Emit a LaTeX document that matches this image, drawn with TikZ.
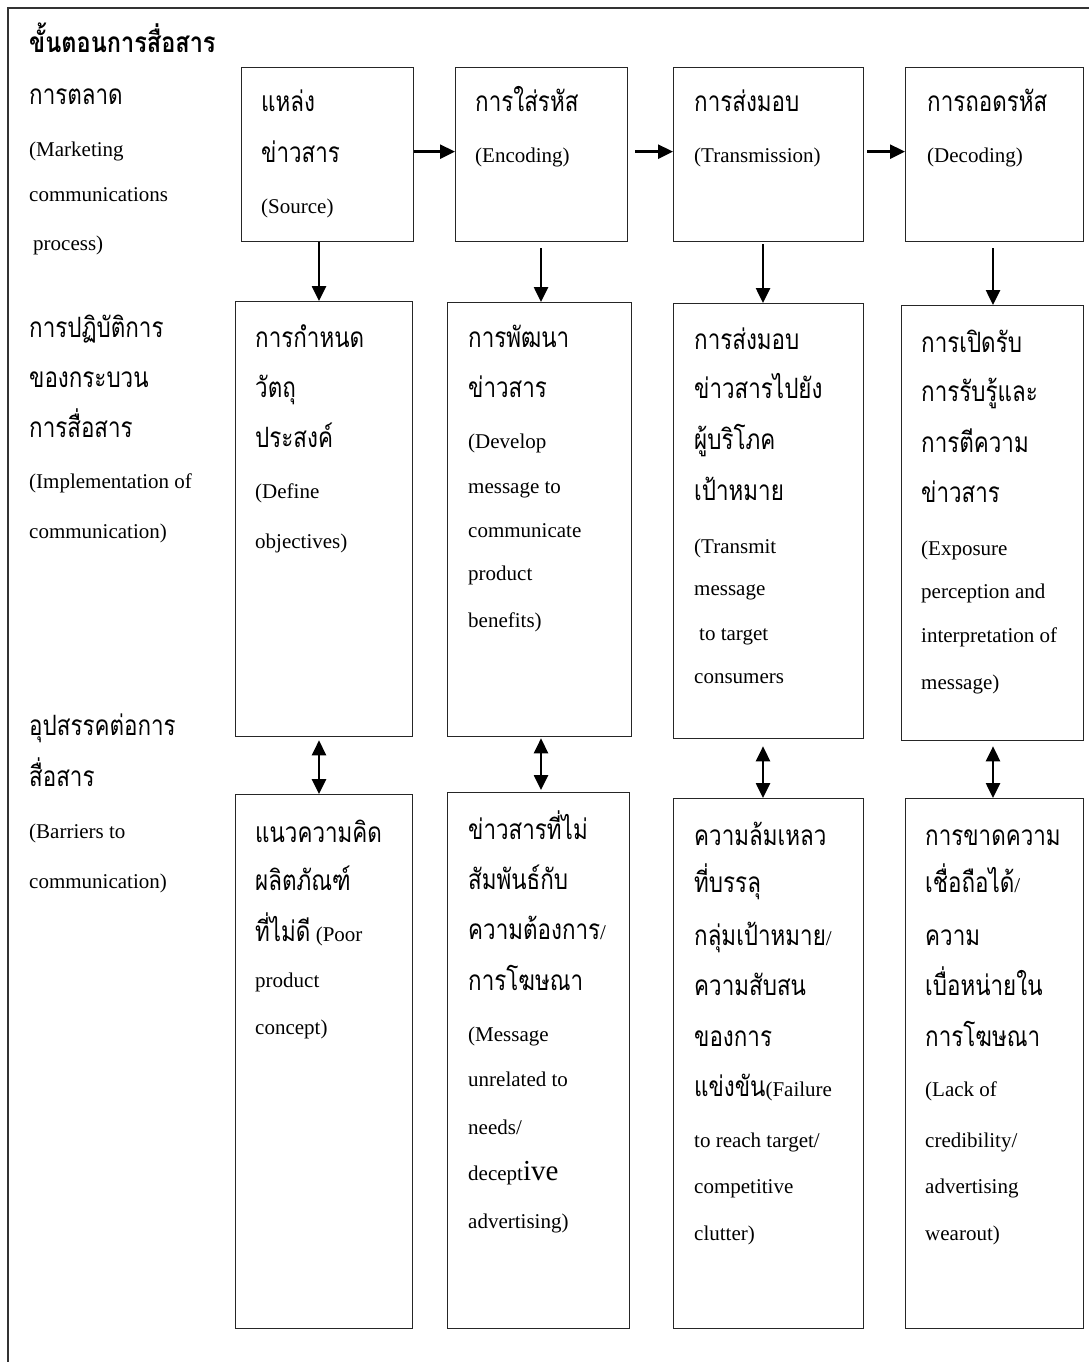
\documentclass[tikz,border=0pt]{standalone}
\usepackage{fontspec}
\usetikzlibrary{arrows.meta}
\setmainfont{Liberation Serif}
\newfontfamily\thaifont[Script=Thai,FakeStretch=0.8]{Loma}
\newfontfamily\thaititle[Script=Thai,FakeStretch=0.84]{Loma}
% Thai run in the Thai face
\newcommand\thaitxt[1]{{\thaifont\fontsize{28}{28}\selectfont #1}}
% a stack of lines whose baselines are set by explicit gaps
\newcommand\tstack[1]{\vtop{\baselineskip=0pt\lineskip=0pt\lineskiplimit=-1000pt\relax#1}}
\newcommand\tline[1]{\hbox{#1}}
\newcommand\lgap[1]{\vskip#1pt}
\tikzset{
  box/.style={draw=black!85,line width=1.3pt,inner sep=0pt,anchor=north west},
  txt/.style={anchor=base west,inner sep=0pt,font=\fontsize{21}{21}\selectfont},
  arr/.style={line width=2.6pt,-{Triangle[length=15pt,width=14pt]}},
  darr/.style={line width=2.6pt,{Triangle[length=15pt,width=14pt]}-{Triangle[length=15pt,width=14pt]}},
  frame/.style={draw=black!80,line width=1.3pt}
}
\begin{document}
\begin{tikzpicture}[x=1pt,y=-1pt]
\useasboundingbox (0,0) rectangle (1089,1362);
\fill[white] (0,0) rectangle (1089,1362);
\draw[frame] (8,1362) -- (8,8) -- (1089,8);

% stage boxes
\node[box,minimum width=172pt,minimum height=174pt] (s1) at (241,67) {};
\node[box,minimum width=172pt,minimum height=174pt] (s2) at (455,67) {};
\node[box,minimum width=190pt,minimum height=174pt] (s3) at (673,67) {};
\node[box,minimum width=178pt,minimum height=174pt] (s4) at (905,67) {};
% implementation boxes
\node[box,minimum width=177pt,minimum height=435pt] (m1) at (235,301) {};
\node[box,minimum width=184pt,minimum height=434pt] (m2) at (447,302) {};
\node[box,minimum width=190pt,minimum height=435pt] (m3) at (673,303) {};
\node[box,minimum width=182pt,minimum height=435pt] (m4) at (901,305) {};
% barrier boxes
\node[box,minimum width=177pt,minimum height=534pt] (b1) at (235,794) {};
\node[box,minimum width=182pt,minimum height=536pt] (b2) at (447,792) {};
\node[box,minimum width=190pt,minimum height=530pt] (b3) at (673,798) {};
\node[box,minimum width=178pt,minimum height=530pt] (b4) at (905,798) {};

% column guides for the vertical connectors
\coordinate (c1) at (319,0);
\coordinate (c2) at (541,0);
\coordinate (c3) at (763,0);
\coordinate (c4) at (993,0);

% flow along the top row
\draw[arr] ([yshift=3pt]s1.east) -- ([yshift=3pt]s2.west);
\draw[arr,shorten <=7pt] ([yshift=3pt]s2.east) -- ([yshift=3pt]s3.west);
\draw[arr,shorten <=3pt] ([yshift=3pt]s3.east) -- ([yshift=3pt]s4.west);
% top row to implementation row
\draw[arr] (c1 |- s1.south) -- (c1 |- m1.north);
\draw[arr,shorten <=6pt] (c2 |- s2.south) -- (c2 |- m2.north);
\draw[arr,shorten <=2pt] (c3 |- s3.south) -- (c3 |- m3.north);
\draw[arr,shorten <=6pt] (c4 |- s4.south) -- (c4 |- m4.north);
% implementation row and barriers
\draw[darr,shorten <=3pt] (c1 |- m1.south) -- (c1 |- b1.north);
\draw[darr,shorten <=1pt,shorten >=2pt] (c2 |- m2.south) -- (c2 |- b2.north);
\draw[darr,shorten <=7pt] (c3 |- m3.south) -- (c3 |- b3.north);
\draw[darr,shorten <=5pt] (c4 |- m4.south) -- (c4 |- b4.north);

% left-hand labels
\node[txt] (title) at (29,53) {{\thaititle\bfseries\fontsize{28}{28}\selectfont ขั้นตอนการสื่อสาร}};
\node[txt] (lab1) at (29,105) {\tstack{%
  \tline{\thaitxt{การตลาด}}\lgap{52}%
  \tline{(Marketing}\lgap{45}%
  \tline{communications}\lgap{48}%
  \tline{\kern4pt process)}}};
\node[txt] (lab2) at (29,337) {\tstack{%
  \tline{\thaitxt{การปฏิบัติการ}}\lgap{50}%
  \tline{\thaitxt{ของกระบวน}}\lgap{50}%
  \tline{\thaitxt{การสื่อสาร}}\lgap{51}%
  \tline{(Implementation of}\lgap{50}%
  \tline{communication)}}};
\node[txt] (lab3) at (29,735) {\tstack{%
  \tline{\thaitxt{อุปสรรคต่อการ}}\lgap{51}%
  \tline{\thaitxt{สื่อสาร}}\lgap{52}%
  \tline{(Barriers to}\lgap{50}%
  \tline{communication)}}};

% top row texts
\node[txt] (ts1) at (261,112) {\tstack{%
  \tline{\thaitxt{แหล่ง}}\lgap{51}%
  \tline{\thaitxt{ข่าวสาร}}\lgap{50}%
  \tline{(Source)}}};
\node[txt] (ts2) at (475,112) {\tstack{%
  \tline{\thaitxt{การใส่รหัส}}\lgap{51}%
  \tline{(Encoding)}}};
\node[txt] (ts3) at (694,112) {\tstack{%
  \tline{\thaitxt{การส่งมอบ}}\lgap{51}%
  \tline{(Transmission)}}};
\node[txt] (ts4) at (927,112) {\tstack{%
  \tline{\thaitxt{การถอดรหัส}}\lgap{51}%
  \tline{(Decoding)}}};

% implementation texts
\node[txt] (tm1) at (255,347) {\tstack{%
  \tline{\thaitxt{การกำหนด}}\lgap{50}%
  \tline{\thaitxt{วัตถุ}}\lgap{50}%
  \tline{\thaitxt{ประสงค์}}\lgap{51}%
  \tline{(Define}\lgap{50}%
  \tline{objectives)}}};
\node[txt] (tm2) at (468,347) {\tstack{%
  \tline{\thaitxt{การพัฒนา}}\lgap{50}%
  \tline{\thaitxt{ข่าวสาร}}\lgap{51}%
  \tline{(Develop}\lgap{45}%
  \tline{message to}\lgap{44}%
  \tline{communicate}\lgap{43}%
  \tline{product}\lgap{47}%
  \tline{benefits)}}};
\node[txt] (tm3) at (694,349) {\tstack{%
  \tline{\thaitxt{การส่งมอบ}}\lgap{49}%
  \tline{\thaitxt{ข่าวสารไปยัง}}\lgap{51}%
  \tline{\thaitxt{ผู้บริโภค}}\lgap{51}%
  \tline{\thaitxt{เป้าหมาย}}\lgap{53}%
  \tline{(Transmit}\lgap{42}%
  \tline{message}\lgap{45}%
  \tline{\kern5pt to target}\lgap{43}%
  \tline{consumers}}};
\node[txt] (tm4) at (921,352) {\tstack{%
  \tline{\thaitxt{การเปิดรับ}}\lgap{49}%
  \tline{\thaitxt{การรับรู้และ}}\lgap{51}%
  \tline{\thaitxt{การตีความ}}\lgap{50}%
  \tline{\thaitxt{ข่าวสาร}}\lgap{53}%
  \tline{(Exposure}\lgap{43}%
  \tline{perception and}\lgap{44}%
  \tline{interpretation of}\lgap{47}%
  \tline{message)}}};

% barrier texts
\node[txt] (tb1) at (255,842) {\tstack{%
  \tline{\thaitxt{แนวความคิด}}\lgap{48}%
  \tline{\thaitxt{ผลิตภัณฑ์}}\lgap{51}%
  \tline{\thaitxt{ที่ไม่ดี} (Poor}\lgap{46}%
  \tline{product}\lgap{47}%
  \tline{concept)}}};
\node[txt] (tb2) at (468,839) {\tstack{%
  \tline{\thaitxt{ข่าวสารที่ไม่}}\lgap{50}%
  \tline{\thaitxt{สัมพันธ์กับ}}\lgap{50}%
  \tline{\thaitxt{ความต้องการ}/}\lgap{51}%
  \tline{\thaitxt{การโฆษณา}}\lgap{51}%
  \tline{(Message}\lgap{45}%
  \tline{unrelated to}\lgap{48}%
  \tline{needs/}\lgap{46}%
  \tline{decept{\fontsize{29}{29}\selectfont ive}}\lgap{48}%
  \tline{advertising)}}};
\node[txt] (tb3) at (694,845) {\tstack{%
  \tline{\thaitxt{ความล้มเหลว}}\lgap{47}%
  \tline{\thaitxt{ที่บรรลุ}}\lgap{53}%
  \tline{\thaitxt{กลุ่มเป้าหมาย}/}\lgap{50}%
  \tline{\thaitxt{ความสับสน}}\lgap{51}%
  \tline{\thaitxt{ของการ}}\lgap{50}%
  \tline{\thaitxt{แข่งขัน}(Failure}\lgap{51}%
  \tline{to reach target/}\lgap{46}%
  \tline{competitive}\lgap{47}%
  \tline{clutter)}}};
\node[txt] (tb4) at (925,845) {\tstack{%
  \tline{\thaitxt{การขาดความ}}\lgap{47}%
  \tline{\thaitxt{เชื่อถือได้}/}\lgap{53}%
  \tline{\thaitxt{ความ}}\lgap{50}%
  \tline{\thaitxt{เบื่อหน่ายใน}}\lgap{51}%
  \tline{\thaitxt{การโฆษณา}}\lgap{50}%
  \tline{(Lack of}\lgap{51}%
  \tline{credibility/}\lgap{46}%
  \tline{advertising}\lgap{47}%
  \tline{wearout)}}};
\end{tikzpicture}
\end{document}
